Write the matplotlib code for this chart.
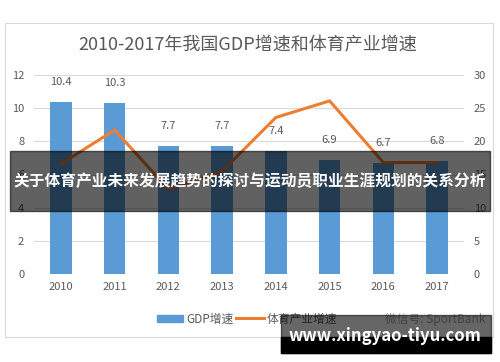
import matplotlib
matplotlib.use('Agg')
import matplotlib.pyplot as plt
from matplotlib.patches import Rectangle
import numpy as np

plt.rcParams['font.family'] = ['Noto Sans CJK SC', 'DejaVu Sans']

# 数据
years = ['2010', '2011', '2012', '2013', '2014', '2015', '2016', '2017']
gdp = [10.4, 10.3, 7.7, 7.7, 7.4, 6.9, 6.7, 6.8]
sport = [16.6, 21.7, 12.8, 15.5, 23.6, 26.1, 16.8, 16.8]

blue = '#5B9BD5'
orange = '#ED7D31'
grey = '#595959'

fig = plt.figure(figsize=(5, 3.62), dpi=100)

# 图表外框
fig.patches.append(Rectangle((5 / 500, 1 - 337 / 362), 488 / 500, 314 / 362,
                             transform=fig.transFigure, fill=False,
                             edgecolor='#D9D9D9', linewidth=0.8))

ax = fig.add_axes([34 / 500, 1 - 274 / 362, 430 / 500, 199 / 362])
x = np.arange(len(years))
bars = ax.bar(x, gdp, width=0.4, color=blue, zorder=2)
ax.set_ylim(0, 12)
ax.set_xlim(-0.5, len(years) - 0.5)
ax.set_yticks(range(0, 13, 2))
ax.set_xticks(x)
ax.set_xticklabels(years)
ax.grid(axis='y', color='#D9D9D9', linewidth=0.8, zorder=0)
for s in ax.spines.values():
    s.set_visible(False)
ax.tick_params(length=0, colors=grey, labelsize=8)
ax.tick_params(axis='y', pad=7)
ax.tick_params(axis='x', pad=6)
for xi, v in zip(x, gdp):
    ax.text(xi, v + 0.9, f'{v}', ha='center', va='bottom', fontsize=8, color=grey)

ax2 = ax.twinx()
ax2.plot(x, sport, color=orange, linewidth=2.2, zorder=3)
ax2.set_ylim(0, 30)
ax2.set_yticks(range(0, 31, 5))
for s in ax2.spines.values():
    s.set_visible(False)
ax2.tick_params(length=0, colors=grey, labelsize=8, pad=7)

fig.text(248 / 500, 1 - 45 / 362, '2010-2017年我国GDP增速和体育产业增速',
         ha='center', va='center', fontsize=13, color=grey)

# 图例
fig.patches.append(Rectangle((157 / 500, 1 - 322 / 362), 26 / 500, 7 / 362,
                             transform=fig.transFigure, color=blue))
fig.text(186 / 500, 1 - 319 / 362, 'GDP增速', va='center', fontsize=8.5, color=grey)
fig.lines.append(plt.Line2D([236 / 500, 264 / 500], [1 - 318 / 362, 1 - 318 / 362],
                            transform=fig.transFigure, color=orange, linewidth=2.2))
fig.text(267 / 500, 1 - 319 / 362, '体育产业增速', va='center', fontsize=8.5, color=grey)
fig.text(385 / 500, 1 - 320 / 362, '微信号: SportBank', va='center', fontsize=8.5, color='#A0A0A0')

# 横幅
fig.patches.append(Rectangle((10 / 500, 1 - 211 / 362), 480 / 500, 60 / 362,
                             transform=fig.transFigure, color='black', alpha=0.62, zorder=5))
fig.text(250 / 500, 1 - 181 / 362, '关于体育产业未来发展趋势的探讨与运动员职业生涯规划的关系分析',
         ha='center', va='center', fontsize=11.3, color='white', fontweight='bold', zorder=6)

# 网址水印
fig.patches.append(Rectangle((281 / 500, 1 - 353 / 362), 210 / 500, 38 / 362,
                             transform=fig.transFigure, color='black', alpha=0.6, zorder=5))
fig.patches.append(Rectangle((281 / 500, 1 - 353 / 362), 210 / 500, 16 / 362,
                             transform=fig.transFigure, color='black', zorder=5))
fig.text(385 / 500, 1 - 336 / 362, 'www.xingyao-tiyu.com', ha='center', va='center',
         fontsize=12, color='white', fontweight='bold', zorder=6)

fig.savefig('out.png', dpi=100)
